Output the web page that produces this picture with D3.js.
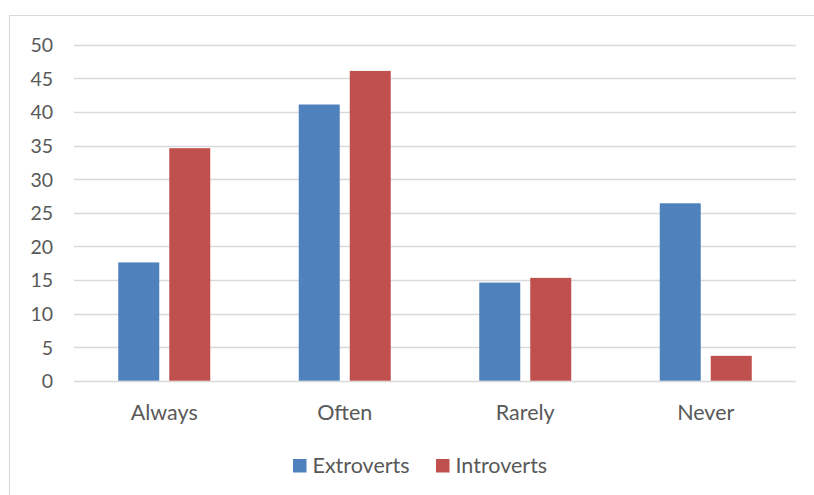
<!DOCTYPE html>
<html>
<head>
<meta charset="utf-8">
<script src="https://cdn.jsdelivr.net/npm/d3@7"></script>
<style>
  html, body { margin: 0; padding: 0; background: #fff; }
  svg text { font-family: Lato, "Open Sans", sans-serif; fill: #595959; }
</style>
</head>
<body>
<svg id="chart" width="814" height="495"></svg>
<script>
// Frequency by personality type
const categories = ["Always", "Often", "Rarely", "Never"];
const seriesNames = ["Extroverts", "Introverts"];
const extroverts = [17.6, 41.1, 14.6, 26.4];
const introverts = [34.6, 46.1, 15.3, 3.7];
const yTicks = [0, 5, 10, 15, 20, 25, 30, 35, 40, 45, 50];
const colors = ["#4F81BD", "#C0504D"];

const values = [extroverts, introverts];
const svg = d3.select("#chart");

// chart frame
svg.append("rect")
  .attr("x", 9.5).attr("y", 15.5)
  .attr("width", 900).attr("height", 600)
  .attr("fill", "none").attr("stroke", "#d9d9d9").attr("stroke-width", 1);

const plot = { left: 74, right: 796, top: 44.7, bottom: 380.7 };

const y = d3.scaleLinear().domain([0, 50]).range([plot.bottom, plot.top]);
const x0 = d3.scaleBand().domain(categories).range([plot.left, plot.right]).padding(0);
const x1 = d3.scaleBand().domain(seriesNames).range([0, x0.bandwidth()])
  .paddingInner(0.196).paddingOuter(0.8675);

// gridlines
svg.append("g").selectAll("line").data(yTicks).join("line")
  .attr("x1", plot.left).attr("x2", plot.right)
  .attr("y1", d => Math.round(y(d)) + 0.5).attr("y2", d => Math.round(y(d)) + 0.5)
  .attr("stroke", "#d9d9d9").attr("stroke-width", 1.3);

// y axis labels
const yAxis = d3.axisLeft(y).tickValues(yTicks).tickSize(0).tickPadding(0);
const gy = svg.append("g").attr("transform", "translate(53,0)").call(yAxis);
gy.select(".domain").remove();
gy.selectAll("text").attr("font-size", 19.5).attr("fill", "#595959")
  .style("font-family", "Lato, 'Open Sans', sans-serif").attr("dy", "0.36em");

// bars
const groups = svg.append("g").selectAll("g").data(categories).join("g")
  .attr("transform", d => `translate(${x0(d)},0)`);
groups.selectAll("rect")
  .data((d, i) => seriesNames.map((s, j) => ({ s, v: values[j][i], j })))
  .join("rect")
  .attr("x", d => x1(d.s))
  .attr("y", d => y(d.v))
  .attr("width", x1.bandwidth())
  .attr("height", d => y(0) - y(d.v))
  .attr("fill", d => colors[d.j]);

// category labels
const xAxis = d3.axisBottom(x0).tickSize(0).tickPadding(0);
const gx = svg.append("g").attr("transform", "translate(0,420)").call(xAxis);
gx.select(".domain").remove();
gx.selectAll("text").attr("font-size", 21.5).attr("fill", "#595959")
  .style("font-family", "Lato, 'Open Sans', sans-serif").attr("dy", 0);

// legend
const legendItems = [
  { name: seriesNames[0], color: colors[0], x: 293 },
  { name: seriesNames[1], color: colors[1], x: 436 }
];
const lg = svg.append("g").selectAll("g").data(legendItems).join("g")
  .attr("transform", d => `translate(${d.x},459)`);
lg.append("rect").attr("width", 13.5).attr("height", 13.5).attr("fill", d => d.color);
lg.append("text").attr("x", 19.5).attr("y", 14).attr("font-size", 21.5).text(d => d.name);
</script>
</body>
</html>
